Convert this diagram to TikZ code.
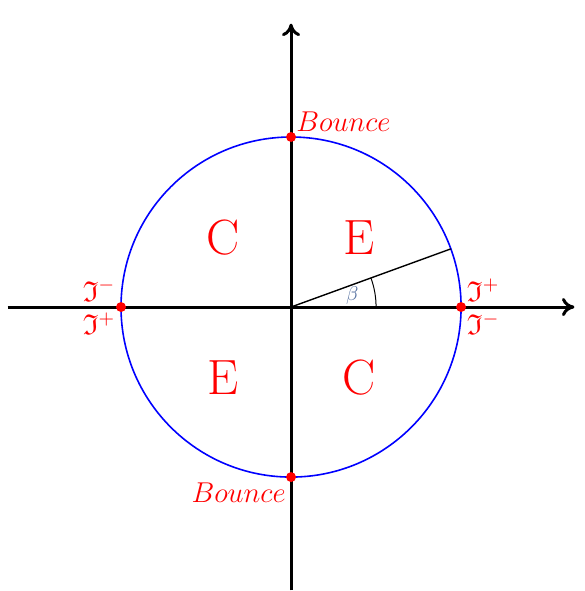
\documentclass[tikz,border=0pt]{standalone}
\usepackage{xcolor}
\usepackage{amssymb}
\usetikzlibrary{arrows.meta}
\definecolor{ink}{HTML}{000000}
\definecolor{rim}{HTML}{0000FF}
\definecolor{mark}{HTML}{FF0000}
\definecolor{anglink}{HTML}{5570A0}

\begin{document}
\begin{tikzpicture}[x=1cm, y=1cm]
  \def\R{3.0}                    % radius of the circle
  \def\A{5.0}                    % half length of each axis
  \def\B{20}                     % the angle beta, degrees
  % pin the box so the margins match the reference page
  \useasboundingbox (-5.135,-5.01) rectangle (5.17,5.417);
  \tikzset{
    axis/.style={ink, line width=1.5pt, -{To[length=2.2mm, width=3.2mm]}},
    dot/.style={circle, fill=mark, inner sep=0pt, minimum size=5pt},
    region/.style={text=mark, font=\Huge},
    scrilab/.style={text=mark, font=\Large, inner sep=0.8pt},
    bouncelab/.style={text=mark, font=\Large, inner sep=0.6pt}}

  % ========== the axes =====================================================
  \coordinate (O)  at (0,0);
  \coordinate (xl) at (-\A,0);
  \coordinate (xr) at (\A,0);
  \coordinate (yb) at (0,-\A);
  \coordinate (yt) at (0,\A);
  \draw[axis] (xl) -- (xr);
  \draw[axis] (yb) -- (yt);

  % ========== the circle and the angle =====================================
  \draw[rim, line width=0.8pt] (O) circle (\R);
  \coordinate (P) at (\B:\R);
  \draw[ink, line width=0.7pt] (O) -- (P);
  \draw[ink, line width=0.5pt] (1.5,0) arc (0:\B:1.5);
  \node[text=anglink] (beta) at (11:1.1) {$\beta$};

  % --- the four regions ----------------------------------------------------
  \node[region] (nw) at (-1.2, 1.22) {C};
  \node[region] (ne) at ( 1.2, 1.22) {E};
  \node[region] (sw) at (-1.2,-1.24) {E};
  \node[region] (se) at ( 1.2,-1.24) {C};

  % ========== the four marked points =======================================
  \node[dot] (top)   at (90:\R)  {};
  \node[dot] (bot)   at (270:\R) {};
  \node[dot] (left)  at (180:\R) {};
  \node[dot] (right) at (0:\R)   {};

  \node[bouncelab, anchor=south west] at (top.north east) {$Bounce$};
  \node[bouncelab, anchor=north east] at (bot.south west) {$Bounce$};

  \node[scrilab, anchor=south east] at (left.north west)  {$\mathfrak{I}^{-}$};
  \node[scrilab, anchor=north east] at (left.south west)  {$\mathfrak{I}^{+}$};
  \node[scrilab, anchor=south west] at (right.north east) {$\mathfrak{I}^{+}$};
  \node[scrilab, anchor=north west] at (right.south east) {$\mathfrak{I}^{-}$};
\end{tikzpicture}
\end{document}
